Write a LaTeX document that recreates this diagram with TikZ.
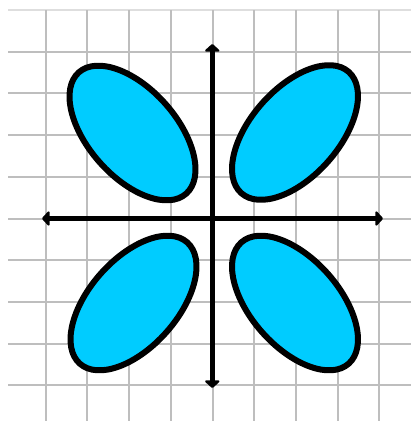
\documentclass[tikz,border=0pt]{standalone}
\usetikzlibrary{arrows.meta}
\definecolor{lobe}{RGB}{0,204,255}
\definecolor{gridgray}{RGB}{190,190,190}
\definecolor{gridlight}{RGB}{222,222,222}
\begin{document}
\begin{tikzpicture}[x=1pt,y=-1pt,
  gridline/.style={gridgray,line width=2pt},
  toprule/.style={gridlight,line width=2pt},
  lobestyle/.style={fill=lobe,draw=black,line width=6pt},
  axisline/.style={line width=5.5pt,line cap=round,
    {Triangle[round,length=8pt,width=17pt]}-{Triangle[round,length=8pt,width=17pt]}}]
\useasboundingbox (0,0) rectangle (411,421);
\fill[white] (0,0) rectangle (411,421);
% grid
\draw[toprule] (8,10) -- (411,10);
\foreach \k in {1,...,9} {
  \draw[gridline] (8,{10+41.7*\k}) -- (411,{10+41.7*\k});
}
\foreach \k in {0,...,8} {
  \draw[gridline] ({45.7+41.7*\k},10) -- ({45.7+41.7*\k},421);
}
% lobes
\draw[lobestyle] (132.5,133) ellipse [x radius=81, y radius=44, rotate=-48.5];
\draw[lobestyle] (295,132.5) ellipse [x radius=81, y radius=44, rotate=48.5];
\draw[lobestyle] (133.5,303) ellipse [x radius=81, y radius=44, rotate=48.5];
\draw[lobestyle] (295,303) ellipse [x radius=81, y radius=44, rotate=-48.5];
% axes
\coordinate (xl) at (42,218.5);
\coordinate (xr) at (383,218.5);
\coordinate (yt) at (212.3,44);
\coordinate (yb) at (212.3,388);
\draw[axisline] (xl) -- (xr);
\draw[axisline] (yb) -- (yt);
\end{tikzpicture}
\end{document}
